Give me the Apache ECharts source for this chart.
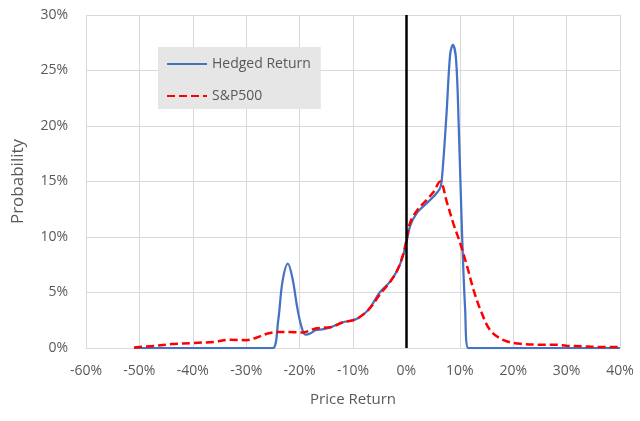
<!DOCTYPE html>
<html>
<head>
    <meta charset="UTF-8">
    <title>Hedged Return vs S&amp;P500</title>
    <script src="https://cdn.jsdelivr.net/npm/echarts@6/dist/echarts.min.js"></script>
    <style>
        html, body {margin: 0; padding: 0; background: #fff;}
        #chart {width: 640px; height: 421px;}
    </style>
</head>
<body>
<div id="chart"></div>
<script type="text/javascript">
    // price return (%) and probability (%)
    const hedgedX = [-51, -45, -40, -35, -30, -27, -25, -24, -23.2, -22.2, -21.3, -20.5, -19.7, -18.9, -18, -17, -15.5, -14, -12, -10, -9, -7, -5, -3, -1.7, -0.7, 0, 0.7, 2, 3.5, 5, 6.2, 6.6, 7.5, 8.2, 8.7, 9.3, 9.8, 10.4, 11.0, 11.6, 13, 20, 30, 40];
    const hedgedY = [0, 0, 0, 0, 0, 0, 0, 2.5, 6.0, 7.6, 6.2, 3.8, 2.0, 1.2, 1.3, 1.6, 1.7, 1.9, 2.3, 2.5, 2.7, 3.5, 5.0, 6.0, 7.0, 8.2, 9.5, 11.0, 12.2, 12.9, 13.6, 14.3, 15.0, 21.0, 26.5, 27.3, 26.0, 20.0, 10.6, 3.5, 0, 0, 0, 0, 0];
    const spX = [-51, -47, -44, -40, -36, -33, -30, -28, -26, -24, -22, -19.5, -17, -14, -12, -10, -9, -7, -5, -3, -1.7, -0.7, 0, 0.7, 2, 3.5, 5, 6.3, 7.6, 8.8, 10.1, 11.4, 12.6, 13.9, 15.7, 18.2, 21, 25, 28, 30, 33, 36, 40];
    const spY = [0.05, 0.2, 0.35, 0.45, 0.55, 0.75, 0.7, 0.95, 1.3, 1.45, 1.45, 1.4, 1.75, 1.9, 2.3, 2.5, 2.7, 3.5, 4.8, 6.0, 7.0, 8.3, 9.7, 11.3, 12.4, 13.2, 14.0, 15.0, 13.1, 11.2, 9.4, 7.3, 5.2, 3.4, 1.6, 0.7, 0.4, 0.3, 0.3, 0.2, 0.15, 0.1, 0.1];
    const seriesNames = ['Hedged Return', 'S&P500'];

    const textColor = '#595959';
    const gridColor = '#d9d9d9';
    const font = "'Open Sans', 'Noto Sans', sans-serif";

    function pairs(xs, ys) {
        return xs.map((x, i) => [x, ys[i]]);
    }

    var chart = echarts.init(document.getElementById('chart'));
    chart.setOption({
        animation: false,
        grid: {left: 86, right: 20, top: 15, bottom: 73},
        legend: {
            left: 158, top: 47,
            orient: 'vertical',
            backgroundColor: '#e7e6e6',
            padding: [10, 10, 6, 8],
            itemGap: 18,
            itemWidth: 40, itemHeight: 10,
            itemStyle: {opacity: 0},
            data: seriesNames,
            textStyle: {color: textColor, fontSize: 14, fontFamily: font}
        },
        xAxis: {
            type: 'value', min: -60, max: 40, interval: 10,
            name: 'Price Return', nameLocation: 'middle', nameGap: 44,
            nameTextStyle: {color: textColor, fontSize: 15, fontFamily: font},
            axisLine: {show: true, onZero: false, lineStyle: {color: gridColor}},
            axisTick: {show: false},
            splitLine: {show: true, lineStyle: {color: gridColor, width: 1}},
            axisLabel: {formatter: '{value}%', color: textColor, fontSize: 14, fontFamily: font, margin: 16}
        },
        yAxis: {
            type: 'value', min: 0, max: 30, interval: 5,
            name: 'Probability', nameLocation: 'middle', nameGap: 59,
            nameTextStyle: {color: textColor, fontSize: 17, fontFamily: font},
            axisLine: {show: false},
            axisTick: {show: false},
            splitLine: {lineStyle: {color: gridColor, width: 1}},
            axisLabel: {formatter: '{value}%', color: textColor, fontSize: 14, fontFamily: font, margin: 18}
        },
        series: [
            {
                name: seriesNames[0], type: 'line', smooth: 0.35, symbol: 'none',
                data: pairs(hedgedX, hedgedY),
                lineStyle: {color: '#4472c4', width: 2.25},
                itemStyle: {color: '#4472c4'},
                z: 3,
                markLine: {
                    silent: true, symbol: 'none', label: {show: false},
                    lineStyle: {color: '#000', width: 2.5, type: 'solid'},
                    data: [{xAxis: 0}]
                }
            },
            {
                name: seriesNames[1], type: 'line', smooth: 0.35, symbol: 'none',
                data: pairs(spX, spY),
                lineStyle: {color: '#ff0000', width: 2.5, type: [8, 4]},
                itemStyle: {color: '#ff0000'},
                z: 4
            }
        ]
    });
</script>
</body>
</html>
